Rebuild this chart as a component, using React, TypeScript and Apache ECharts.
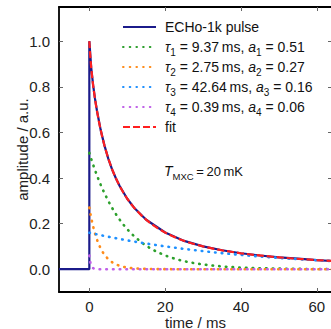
import React, { useEffect, useRef } from "react";
import * as echarts from "echarts";

const FONT = '"Liberation Sans", Arial, Helvetica, sans-serif';

// Fitted decay constants (ms) and amplitudes of the four exponential components
const TAUS_MS = [9.37, 2.75, 42.64, 0.39];
const AMPS = [0.51, 0.27, 0.16, 0.06];
const COMPONENT_COLORS = ["#2ca02c", "#ff8c1a", "#1e90ff", "#c060e8"];

// Times (ms) at which the fitted model and its components are evaluated
const MODEL_T = [
  0, 0.05, 0.1, 0.15, 0.2, 0.3, 0.4, 0.5, 0.6, 0.8, 1, 1.25, 1.5, 1.75, 2, 2.5, 3, 3.5, 4, 5, 6, 7, 8, 9,
  10, 11, 12, 14, 16, 18, 20, 22, 24, 26, 28, 30, 33, 36, 40, 44, 48, 52, 56, 60, 64,
];

// Measured pulse: flat baseline before the trigger, then the decay
const PULSE_T = [-8, 0, 0, 0.5, 1, 1.5, 2, 3, 4, 5, 6, 7, 8, 10, 12, 15, 20, 25, 30, 35, 40, 45, 50, 55, 60, 64];
const PULSE_AMP = [
  0, 0, 1.0, 0.883, 0.807, 0.747, 0.696, 0.61, 0.542, 0.485, 0.438, 0.399, 0.365, 0.309, 0.266, 0.217,
  0.161, 0.124, 0.1, 0.083, 0.07, 0.06, 0.052, 0.046, 0.04, 0.036,
];

const X_TICKS = [0, 20, 40, 60];
const Y_TICKS = [0, 0.2, 0.4, 0.6, 0.8, 1.0];

const PULSE_NAME = "ECHo-1k pulse";
const FIT_NAME = "fit";
const componentName = (i: number) => `τ${i + 1}`;

const component = (i: number) => MODEL_T.map((t) => [t, AMPS[i] * Math.exp(-t / TAUS_MS[i])]);
const fitCurve = () =>
  MODEL_T.map((t) => [t, AMPS.reduce((s, a, i) => s + a * Math.exp(-t / TAUS_MS[i]), 0)]);

const axisLineStyle = { show: true, onZero: false, lineStyle: { color: "#000", width: 1.8 } };
const tickStyle = (vals: number[]) => ({
  show: true,
  inside: true,
  length: 4,
  customValues: vals,
  lineStyle: { color: "#666", width: 1 },
});

export default function App() {
  const ref = useRef<HTMLDivElement>(null);

  useEffect(() => {
    if (!ref.current) return;
    const chart = echarts.init(ref.current, null, { renderer: "svg" });

    const dotted = { type: [0.6, 6.1] as number[], cap: "round" as const, width: 2.6 };

    const series: any[] = [
      {
        name: PULSE_NAME,
        type: "line",
        data: PULSE_T.map((t, i) => [t, PULSE_AMP[i]]),
        symbol: "none",
        showSymbol: false,
        color: "#1b1b8a",
        lineStyle: { color: "#1b1b8a", width: 2.2 },
        z: 2,
      },
      ...AMPS.map((_, i) => ({
        name: componentName(i),
        type: "line",
        data: component(i),
        symbol: "none",
        showSymbol: false,
        color: COMPONENT_COLORS[i],
        lineStyle: { ...dotted, color: COMPONENT_COLORS[i] },
        z: 3,
      })),
      {
        name: FIT_NAME,
        type: "line",
        data: fitCurve(),
        symbol: "none",
        showSymbol: false,
        color: "#ff1f1f",
        lineStyle: { color: "#ff1f1f", width: 2.2, type: [7, 3] },
        z: 4,
      },
    ];

    const legendText = (name: string) => {
      if (name.startsWith("τ")) {
        const i = Number(name.slice(1)) - 1;
        return `{it|τ}{sub|${i + 1}} = ${TAUS_MS[i].toFixed(2)}\u2009ms, {it|a}{sub|${i + 1}} = ${AMPS[i].toFixed(2)}`;
      }
      return name;
    };

    chart.setOption({
      animation: false,
      textStyle: { fontFamily: FONT },
      grid: { left: 59, top: 7, right: 2, bottom: 37, containLabel: false, outerBoundsMode: "none" },
      xAxis: [
        {
          type: "value",
          min: -8,
          max: 64,
          position: "bottom",
          axisLine: axisLineStyle,
          axisTick: tickStyle(X_TICKS),
          axisLabel: {
            customValues: X_TICKS,
            margin: 7,
            fontSize: 15,
            lineHeight: 14,
            color: "#222",
            fontFamily: FONT,
          },
          splitLine: { show: false },
          name: "time / ms",
          nameLocation: "middle",
          nameGap: 23,
          nameMoveOverlap: false,
          nameTextStyle: { fontSize: 15, lineHeight: 14, color: "#222", fontFamily: FONT },
        },
        {
          type: "value",
          min: -8,
          max: 64,
          position: "top",
          axisLine: axisLineStyle,
          axisTick: tickStyle(X_TICKS),
          axisLabel: { show: false },
          splitLine: { show: false },
        },
      ],
      yAxis: [
        {
          type: "value",
          min: -0.1,
          max: 1.15,
          position: "left",
          axisLine: axisLineStyle,
          axisTick: tickStyle(Y_TICKS),
          axisLabel: {
            customValues: Y_TICKS,
            margin: 9,
            fontSize: 15,
            color: "#222",
            fontFamily: FONT,
            formatter: (v: number) => v.toFixed(1),
          },
          splitLine: { show: false },
          name: "amplitude / a.u.",
          nameLocation: "middle",
          nameGap: 29,
          nameRotate: 90,
          nameMoveOverlap: false,
          nameTextStyle: { fontSize: 15, color: "#222", fontFamily: FONT },
        },
        {
          type: "value",
          min: -0.1,
          max: 1.15,
          position: "right",
          axisLine: axisLineStyle,
          axisTick: tickStyle(Y_TICKS),
          axisLabel: { show: false },
          splitLine: { show: false },
        },
      ],
      legend: {
        orient: "vertical",
        left: 122,
        top: 17,
        padding: 0,
        itemGap: 0,
        itemWidth: 33,
        itemHeight: 2,
        selectedMode: false,
        data: [PULSE_NAME, ...AMPS.map((_, i) => componentName(i)), FIT_NAME],
        itemStyle: { opacity: 0 },
        formatter: legendText,
        textStyle: {
          fontSize: 14,
          fontFamily: FONT,
          color: "#111",
          lineHeight: 20,
          padding: [0, 0, 0, 4],
          rich: {
            it: { fontSize: 14, fontStyle: "italic", fontFamily: FONT, color: "#111", lineHeight: 20 },
            sub: { fontSize: 10, fontFamily: FONT, color: "#111", verticalAlign: "bottom", lineHeight: 12 },
          },
        },
      },
      graphic: [
        {
          type: "text",
          left: 164,
          top: 164,
          style: {
            text: "{T|T}{s|MXC}{n|\u2009=\u200920\u2009mK}",
            fill: "#111",
            rich: {
              T: { fontSize: 14, fontStyle: "italic", fontFamily: FONT, fill: "#111", lineHeight: 20 },
              s: { fontSize: 9.5, fontFamily: FONT, fill: "#111", verticalAlign: "bottom", lineHeight: 11 },
              n: { fontSize: 13, fontFamily: FONT, fill: "#111", lineHeight: 20 },
            },
          },
        },
      ],
      series,
    });

    return () => chart.dispose();
  }, []);

  return (
    <div
      ref={ref}
      style={{ position: "fixed", left: 0, top: 0, width: 334, height: 329, background: "#fff" }}
    />
  );
}
